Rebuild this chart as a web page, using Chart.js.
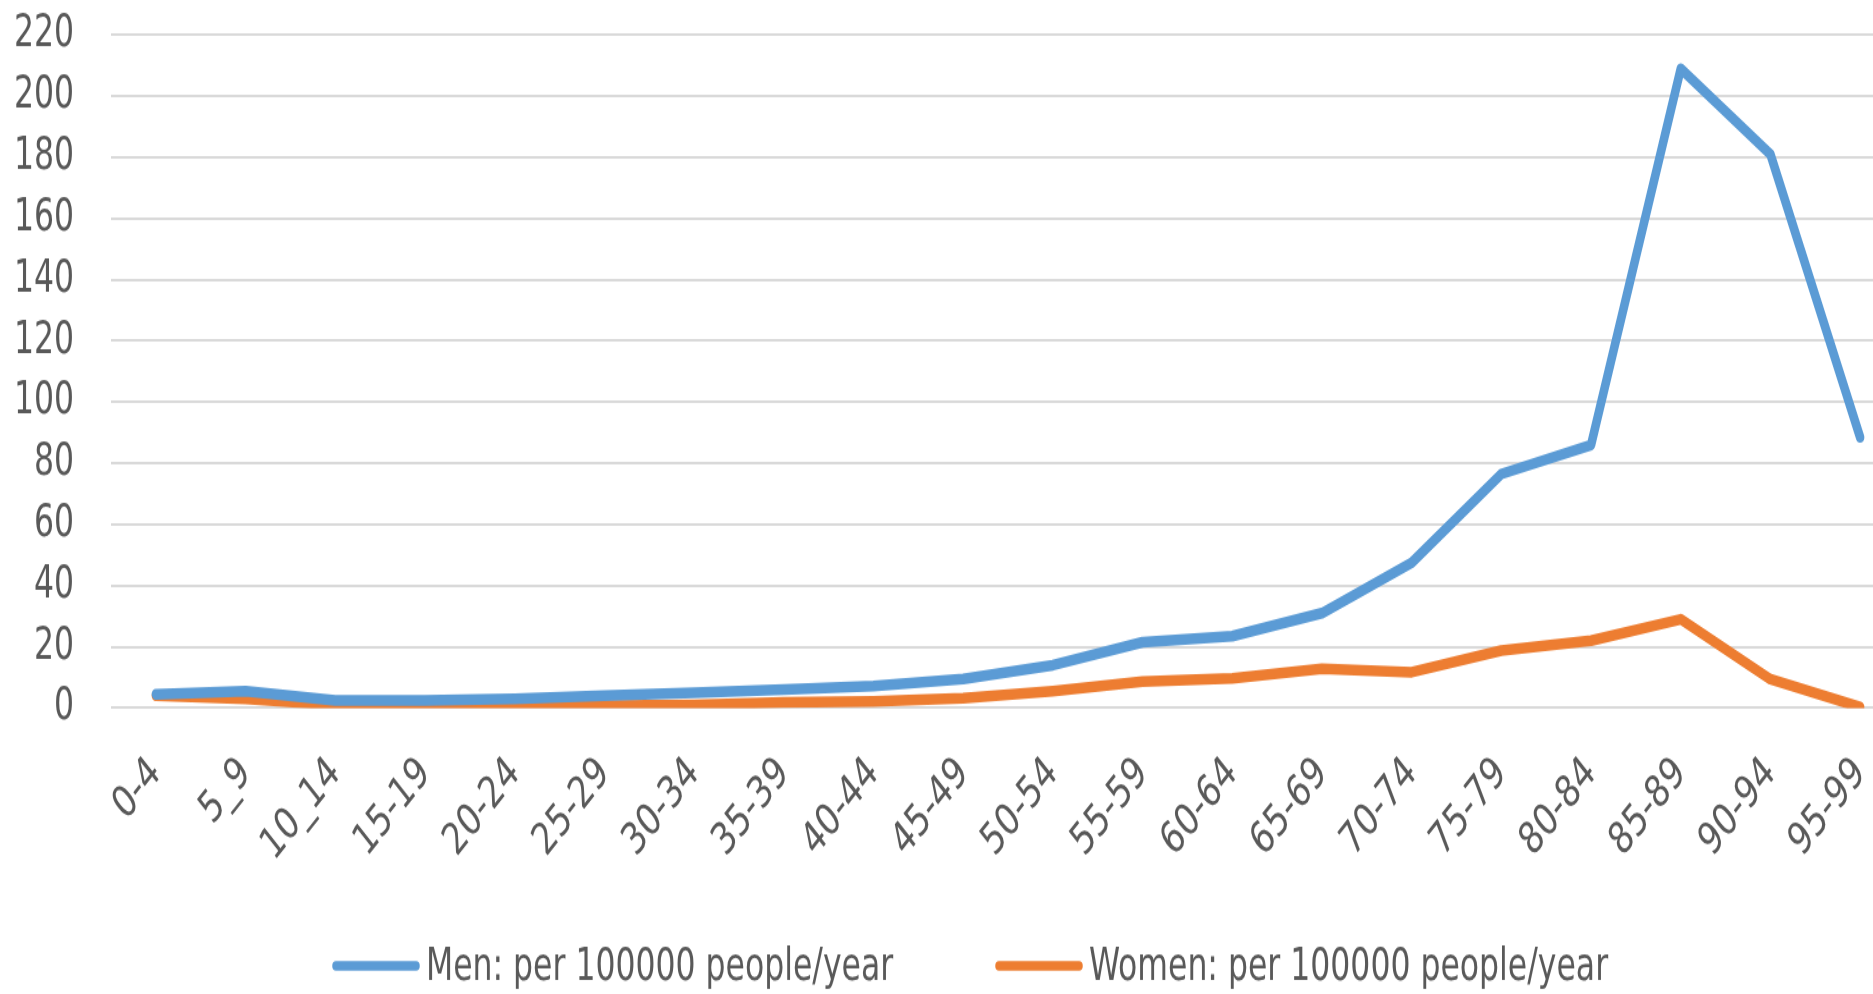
<!DOCTYPE html>
<html lang="en">
<head>
  <meta charset="UTF-8">
  <title>Men / Women per 100000 people/year</title>
  <style>
    html, body {
      margin: 0;
      padding: 0;
      background: #ffffff;
      overflow: hidden;
    }
    #wrap {
      width: 1905px;
      height: 994px;
      overflow: hidden;
    }
  </style>
  <script src="https://cdn.jsdelivr.net/npm/chart.js@4"></script>
</head>
<body>
  <div id="wrap">
    <!-- drawn at 777px high and stretched to 994px, like the (vertically stretched) original picture -->
    <canvas id="chart" width="1905" height="777" style="width:1905px;height:994px;display:block"></canvas>
  </div>

  <script>
    // age groups (x axis)
    const ageGroups = ['0-4', '5_9', '10_14', '15-19', '20-24', '25-29', '30-34', '35-39', '40-44', '45-49',
                       '50-54', '55-59', '60-64', '65-69', '70-74', '75-79', '80-84', '85-89', '90-94', '95-99'];

    // values
    const menValues   = [4.5, 5.5, 2.5, 2.5, 3, 4, 5, 6, 7.2, 9.5, 14, 21.5, 23.5, 31, 47.5, 76.5, 86, 209, 181, 88.5];
    const womenValues = [4, 3, 1, 0.8, 0.8, 0.8, 1, 1.8, 2.2, 3.2, 5.5, 8.6, 9.7, 12.8, 11.7, 18.8, 22, 29, 9.4, 0.3];

    const seriesNames = ['Men: per 100000 people/year', 'Women: per 100000 people/year'];
    const yTicks = [0, 20, 40, 60, 80, 100, 120, 140, 160, 180, 200, 220];

    const FONT = '"Liberation Sans Narrow", "DejaVu Sans Condensed", "Liberation Sans", sans-serif';
    const TEXT_COLOR = '#595959';

    // legend drawn by hand so the spacing matches (line sample right before text)
    const bottomLegend = {
      id: 'bottomLegend',
      afterDraw(chart) {
        const ctx = chart.ctx;
        const y = 755;
        const starts = [332, 995]; // left edge of each line sample
        ctx.save();
        ctx.font = '35px ' + FONT;
        ctx.textBaseline = 'middle';
        ctx.fillStyle = TEXT_COLOR;
        chart.data.datasets.forEach((ds, i) => {
          const x = starts[i];
          ctx.strokeStyle = ds.borderColor;
          ctx.lineWidth = 7.5;
          ctx.lineCap = 'round';
          ctx.beginPath();
          ctx.moveTo(x + 4, y);
          ctx.lineTo(x + 84, y);
          ctx.stroke();
          ctx.fillText(ds.label, x + 94, y + 2);
        });
        ctx.restore();
      }
    };

    new Chart(document.getElementById('chart'), {
      type: 'line',
      data: {
        labels: ageGroups,
        datasets: [
          {
            label: seriesNames[0],
            data: menValues,
            borderColor: '#5B9BD5',
            backgroundColor: '#5B9BD5',
            borderWidth: 8.5,
            pointRadius: 0,
            tension: 0,
            borderJoinStyle: 'round',
            borderCapStyle: 'round'
          },
          {
            label: seriesNames[1],
            data: womenValues,
            borderColor: '#ED7D31',
            backgroundColor: '#ED7D31',
            borderWidth: 8.5,
            pointRadius: 0,
            tension: 0,
            borderJoinStyle: 'round',
            borderCapStyle: 'round'
          }
        ]
      },
      options: {
        responsive: false,
        animation: false,
        devicePixelRatio: 1,
        layout: {
          padding: { top: 27.4, left: 0, right: 0, bottom: 103.6 }
        },
        plugins: {
          legend: { display: false },
          tooltip: { enabled: false }
        },
        scales: {
          x: {
            offset: true,
            grid: { display: false, drawTicks: false },
            border: { display: false },
            ticks: {
              color: TEXT_COLOR,
              font: { family: FONT, size: 35 },
              minRotation: 45,
              maxRotation: 45,
              autoSkip: false,
              padding: 31
            },
            afterFit(scale) {
              scale.height = 120;
              scale.paddingLeft = 0;
              scale.paddingRight = 0;
            }
          },
          y: {
            min: 0,
            max: 220,
            afterBuildTicks(scale) {
              scale.ticks = yTicks.map(v => ({ value: v }));
            },
            grid: { color: '#d9d9d9', lineWidth: 2, drawTicks: false },
            border: { display: false },
            ticks: {
              color: TEXT_COLOR,
              font: { family: FONT, size: 35 },
              padding: 37
            },
            afterFit(scale) {
              scale.width = 111;
              scale.paddingTop = 0;
              scale.paddingBottom = 0;
            }
          }
        }
      },
      plugins: [bottomLegend]
    });
  </script>
</body>
</html>
